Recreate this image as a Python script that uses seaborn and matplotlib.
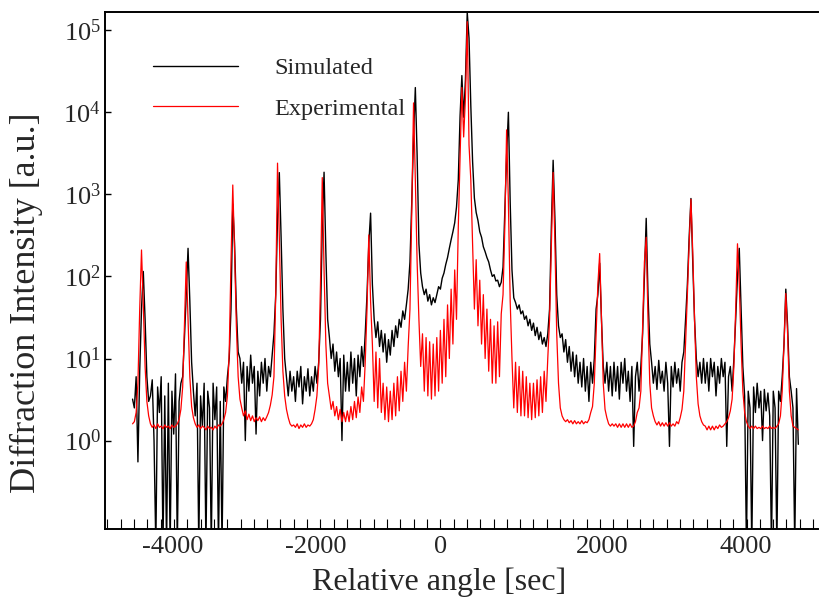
import numpy as np
import pandas as pd
import seaborn as sns
import matplotlib.pyplot as plt
from matplotlib.ticker import FixedLocator, NullLocator, LogFormatterSciNotation
from matplotlib.transforms import ScaledTranslation

#%% Data, scan from -4560 sec in 25 sec steps
scan_start = -4560
scan_step = 25

simulated = [
    3.2, 2.5, 6, 0.55, 7, 40, 115, 30, 6, 3,                      # 0
    3.5, 5.5, 1.0, 0.05, 4.5, 2.2, 6, 0.05, 3.5, 0.05,            # 10
    5, 0.05, 4, 1.2, 6.5, 0.05, 3, 5, 6, 18,                      # 20
    60, 220, 50, 9, 4, 2, 5, 0.05, 3.5, 1.5,                      # 30
    5, 0.05, 4, 2.5, 0.05, 5, 1.8, 4.5, 0.05, 3,                  # 40
    0.05, 4.5, 3, 6, 10, 40, 760, 250, 40, 12,                    # 50
    10, 5, 9, 1.0, 8, 4, 11, 5, 8, 1.2,                           # 60
    7, 3.5, 9, 5, 10, 4, 8, 6, 11, 20,                            # 70
    60, 500, 1840, 300, 40, 10, 6, 3.5, 7, 4,                     # 80
    6, 3, 7, 4.5, 8, 2.8, 6, 4, 7.5, 3.5,                         # 90
    6, 4, 8, 5, 9, 30, 400, 1860, 200, 30,                        # 100
    18, 10, 15, 7, 12, 6, 10, 1.0, 11, 4,                         # 110
    9, 4, 12, 5, 10, 3.5, 11, 6, 14, 8,                           # 120
    20, 60, 250, 590, 80, 30, 18, 28, 14, 22,                     # 130
    12, 20, 9, 17, 11, 22, 14, 25, 18, 30,                        # 140
    24, 38, 30, 45, 70, 150, 800, 5000, 20000, 3000,              # 150
    250, 110, 75, 60, 70, 50, 60, 45, 55, 48,                     # 160
    60, 75, 70, 95, 110, 140, 170, 220, 280, 350,                 # 170
    450, 700, 1500, 9000, 28000, 8700, 25000, 165000, 80000, 12000,  # 180
    2500, 900, 600, 480, 350, 300, 230, 200, 170, 150,            # 190
    120, 100, 105, 88, 90, 75, 85, 130, 600, 3000,                # 200
    10000, 800, 120, 55, 48, 40, 45, 35, 38, 30,                  # 210
    33, 25, 30, 22, 27, 19, 24, 17, 21, 15,                       # 220
    18, 14, 20, 40, 400, 2600, 500, 60, 25, 18,                   # 230
    20, 12, 17, 9, 14, 7, 12, 6, 11, 5,                           # 240
    9, 4.5, 10, 4, 8, 3, 9, 5, 10, 40,                            # 250
    60, 145, 30, 8, 5, 9, 4, 8, 3.5, 9,                           # 260
    4, 8, 3.2, 9, 5, 10, 4, 7, 3, 8,                              # 270
    0.85, 6, 9, 4, 8, 20, 100, 510, 60, 15,                       # 280
    9, 5, 8, 4.2, 9.5, 5, 7, 4, 9, 5,                             # 290
    0.85, 8, 4.5, 9, 5, 7.5, 4, 9, 12, 30,                        # 300
    80, 300, 890, 150, 30, 10, 6, 9, 5, 10,                       # 310
    5, 9, 4, 10, 6, 9, 3.5, 8, 5, 10,                             # 320
    6, 9, 0.85, 6, 8, 4, 10, 30, 100, 220,                        # 330
    40, 8, 3.5, 0.05, 4, 2.5, 0.05, 4.5, 2.2, 5,                  # 340
    2.5, 4, 1.0, 4.2, 2.3, 3.8, 2, 0.05, 4, 2.5,                  # 350
    0.05, 4, 3, 6, 15, 70, 25, 6, 4, 2.5,                         # 360
    0.05, 4.3, 0.9,                                               # 370
]

experimental = [
    1.6, 1.7, 2.2, 5, 40, 210, 45, 8, 3, 2.0,                     # 0
    1.6, 1.45, 1.55, 1.4, 1.6, 1.45, 1.5, 1.4, 1.55, 1.45,        # 10
    1.5, 1.4, 1.55, 1.45, 1.5, 1.6, 1.8, 2.4, 4.5, 25,            # 20
    150, 30, 6, 2.6, 1.9, 1.6, 1.45, 1.55, 1.4, 1.5,              # 30
    1.45, 1.35, 1.5, 1.4, 1.45, 1.35, 1.5, 1.4, 1.55, 1.5,        # 40
    1.6, 1.8, 2.2, 3.5, 12, 150, 1300, 200, 25, 6,                # 50
    3.2, 2.5, 2.0, 2.3, 1.8, 2.1, 1.75, 2.0, 1.7, 1.9,            # 60
    1.75, 1.95, 1.7, 1.9, 1.75, 1.95, 2.2, 2.7, 3.6, 6,           # 70
    60, 2400, 300, 30, 7, 3.5, 2.4, 1.9, 1.6, 1.5,                # 80
    1.55, 1.45, 1.6, 1.4, 1.55, 1.45, 1.6, 1.45, 1.55, 1.5,       # 90
    1.6, 1.8, 2.4, 3.5, 8, 80, 1600, 120, 15, 5,                  # 100
    3.5, 2.4, 3.0, 2.0, 2.6, 1.8, 2.4, 1.7, 2.2, 1.7,             # 110
    2.3, 1.7, 2.6, 1.8, 3.0, 1.9, 3.4, 2.2, 4.5, 3,               # 120
    9, 40, 320, 50, 15, 3, 12, 2.5, 10, 2.2,                      # 130
    5, 1.8, 4.5, 1.7, 4, 1.8, 5, 2.0, 6, 2.3,                     # 140
    7, 3, 9, 4, 14, 40, 600, 13000, 1500, 150,                    # 150
    30, 8, 20, 4, 18, 3.5, 16, 3.2, 15, 3.5,                      # 160
    18, 4, 22, 5, 30, 6, 45, 10, 70, 15,                          # 170
    120, 30, 400, 3000, 20000, 5000, 15000, 127000, 4000, 1500,   # 180
    250, 40, 160, 25, 90, 15, 60, 10, 40, 7,                      # 190
    30, 5, 25, 5, 28, 6, 35, 60, 400, 6100,                       # 200
    800, 50, 10, 2.5, 9, 2.2, 8, 2.0, 7, 2.0,                     # 210
    6, 1.9, 5, 1.8, 5, 1.9, 5.5, 2.0, 6, 2.2,                     # 220
    7, 3, 10, 30, 250, 1850, 250, 20, 5, 2.5,                     # 230
    2.0, 1.8, 1.7, 1.8, 1.65, 1.75, 1.6, 1.75, 1.6, 1.7,          # 240
    1.6, 1.75, 1.6, 1.7, 1.65, 1.8, 2.2, 2.6, 5, 20,              # 250
    80, 190, 30, 5, 2.4, 1.9, 1.6, 1.5, 1.6, 1.5,                 # 260
    1.6, 1.45, 1.6, 1.45, 1.6, 1.45, 1.6, 1.45, 1.6, 1.45,        # 270
    1.5, 1.7, 2.2, 2.5, 4, 25, 150, 300, 30, 5,                   # 280
    2.5, 2.0, 1.7, 1.55, 1.7, 1.5, 1.65, 1.5, 1.65, 1.5,          # 290
    1.65, 1.5, 1.6, 1.5, 1.7, 1.6, 1.9, 2.4, 4, 15,               # 300
    60, 250, 870, 200, 30, 6, 2.8, 2.0, 1.7, 1.55,                # 310
    1.5, 1.35, 1.5, 1.35, 1.5, 1.35, 1.5, 1.4, 1.55, 1.45,        # 320
    1.5, 1.6, 1.7, 1.9, 2.3, 3.2, 8, 40, 250, 80,                 # 330
    15, 4, 2.2, 1.7, 1.5, 1.4, 1.5, 1.4, 1.5, 1.4,                # 340
    1.45, 1.4, 1.5, 1.4, 1.45, 1.4, 1.5, 1.4, 1.45, 1.4,          # 350
    1.5, 1.6, 2.0, 4, 15, 62, 20, 4, 2.0, 1.5,                    # 360
    1.45, 1.4, 1.35,                                              # 370
]

x_ticks = [-4000, -2000, 0, 2000, 4000]
x_tick_labels = ['-4000', '-2000', '0', '2000', '4000']
y_ticks = [1e0, 1e1, 1e2, 1e3, 1e4, 1e5]

angle = scan_start + scan_step * np.arange(len(simulated))
xrd = pd.DataFrame({'angle': angle,
                    'Simulated': simulated,
                    'Experimental': experimental})

#%% Style
sns.set_theme(style='ticks')
plt.rcParams['font.family'] = ['Liberation Serif', 'DejaVu Serif']
plt.rcParams['mathtext.fontset'] = 'custom'
plt.rcParams['mathtext.rm'] = 'Liberation Serif'
plt.rcParams['mathtext.it'] = 'Liberation Serif:italic'

fig = plt.figure(figsize=(8.19, 5.97), dpi=100)
ax = fig.add_axes([0.1282, 0.1134, 0.8706, 0.867])
ax.set_yscale('log')

#%% Curves
sns.lineplot(data=xrd, x='angle', y='Simulated', color='black', lw=1.0,
             label='Simulated', ax=ax)
sns.lineplot(data=xrd, x='angle', y='Experimental', color='#ff0000', lw=0.9,
             label='Experimental', ax=ax)

ax.set_xlim(-4945, 5015)
ax.set_ylim(0.083, 1.68e5)

#%% Axes
ax.yaxis.set_major_locator(FixedLocator(y_ticks))
ax.yaxis.set_major_formatter(LogFormatterSciNotation())
ax.yaxis.set_minor_locator(NullLocator())
ax.set_xticks(x_ticks, labels=x_tick_labels)
ax.xaxis.set_minor_locator(FixedLocator(-4912 + 186 * np.arange(54)))

ax.tick_params(axis='y', which='major', direction='in', length=4.5, width=1,
               labelsize=19, pad=3, color='black')
ax.tick_params(axis='x', which='major', length=0, labelsize=19, pad=5)
ax.tick_params(axis='x', which='minor', direction='in', length=7.5, width=0.8,
               color='black')

for side in ['left', 'bottom', 'top']:
    ax.spines[side].set_linewidth(1.4)
    ax.spines[side].set_color('black')
ax.spines['right'].set_visible(False)

ax.set_xlabel('Relative angle [sec]', fontsize=23)
ax.xaxis.set_label_coords(0.469, -0.073)
ax.set_ylabel('Diffraction Intensity [a.u.]', fontsize=26)
ax.yaxis.set_label_coords(-0.087, 0.437)

# the "0" label sits a little left of its place in the original
zero_lab = ax.xaxis.get_major_ticks()[2].label1
zero_lab.set_transform(zero_lab.get_transform() +
                       ScaledTranslation(-0.18, 0, fig.dpi_scale_trans))

ax.legend(loc='upper left', bbox_to_anchor=(0.0673, 0.912), frameon=False,
          fontsize=17.5, handlelength=3.5, handletextpad=1.5,
          labelspacing=0.75, borderaxespad=0, borderpad=0)

fig.savefig('out.png', dpi=100)
